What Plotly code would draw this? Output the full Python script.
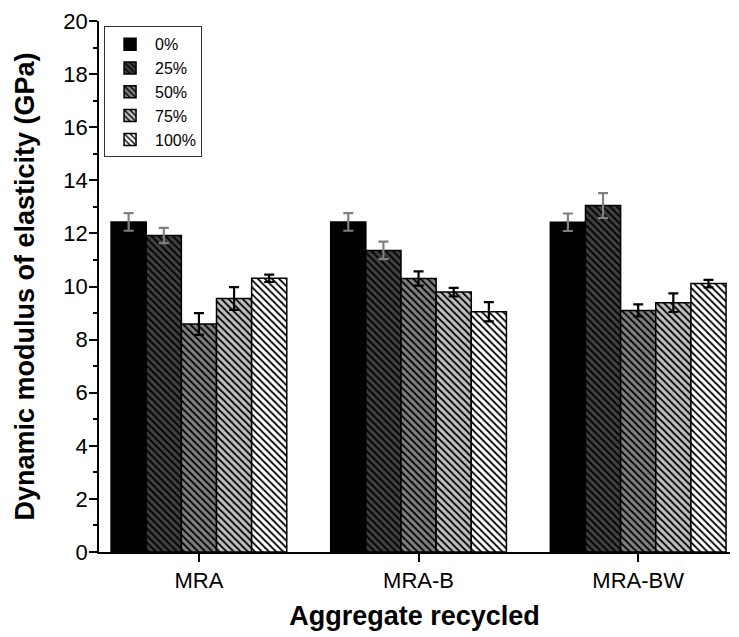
import plotly.graph_objects as go

categories = ["MRA", "MRA-B", "MRA-BW"]
series_names = ["0%", "25%", "50%", "75%", "100%"]
v0 = [12.43, 12.43, 12.42]
v25 = [11.92, 11.36, 13.05]
v50 = [8.59, 10.30, 9.10]
v75 = [9.55, 9.79, 9.39]
v100 = [10.31, 9.05, 10.11]
e0 = [0.33, 0.33, 0.33]
e25 = [0.29, 0.33, 0.47]
e50 = [0.41, 0.27, 0.23]
e75 = [0.43, 0.16, 0.35]
e100 = [0.14, 0.36, 0.14]
y_ticks = [0, 2, 4, 6, 8, 10, 12, 14, 16, 18, 20]

values = [v0, v25, v50, v75, v100]
errors = [e0, e25, e50, e75, e100]
fills = ["#000000", "#404040", "#808080", "#c0c0c0", "#ffffff"]
shapes = ["", "\\", "\\", "\\", "\\"]
err_colors = ["#808080", "#808080", "#000000", "#000000", "#000000"]

FONT = "Arial, Liberation Sans, sans-serif"

fig = go.Figure()
for name, vals, errs, fc, sh, ec in zip(series_names, values, errors, fills, shapes, err_colors):
    marker = dict(color=fc, line=dict(color="#000000", width=1.5))
    if sh:
        marker["pattern"] = dict(shape=sh, fgcolor="#000000", bgcolor=fc,
                                 size=5, solidity=0.35, fillmode="replace")
    fig.add_trace(go.Bar(
        x=categories, y=vals, name=name, marker=marker,
        error_y=dict(type="data", array=errs, visible=True, color=ec,
                     thickness=2.2, width=5),
    ))

# page body adds an 8px offset; figure is sized/margined to compensate
fig.update_layout(
    width=731, height=629,
    barmode="group", bargap=0.2, bargroupgap=0,
    plot_bgcolor="white", paper_bgcolor="white",
    margin=dict(l=91, r=9, t=13, b=85, autoexpand=False),
    font=dict(family=FONT, size=22, color="#000000"),
    legend=dict(x=0.008, y=0.99, xanchor="left", yanchor="top",
                bordercolor="#333333", borderwidth=1, bgcolor="white",
                font=dict(size=16), tracegroupgap=0, itemwidth=40),
    xaxis=dict(
        type="category", range=[-0.455, 2.418], automargin=False,
        showline=True, linecolor="#000000", linewidth=1.5,
        ticks="outside", ticklen=8, tickwidth=1.5, tickcolor="#000000",
        showgrid=False, zeroline=False,
        title=dict(text="<b>Aggregate recycled</b>", font=dict(size=27), standoff=14),
        tickfont=dict(size=22),
    ),
    yaxis=dict(
        range=[0, 20], tickvals=y_ticks, automargin=False,
        showline=True, linecolor="#000000", linewidth=1.5,
        ticks="outside", ticklen=8, tickwidth=1.5, tickcolor="#000000",
        ticklabelstandoff=-3, ticklabeloverflow="allow",
        minor=dict(ticks="outside", ticklen=4, dtick=1, tickcolor="#000000", tickwidth=1.5),
        showgrid=False, zeroline=False,
        title=dict(text="<b>Dynamic modulus of elasticity (GPa)</b>", font=dict(size=27), standoff=21),
        tickfont=dict(size=22),
    ),
)

fig.write_html("out.html")
